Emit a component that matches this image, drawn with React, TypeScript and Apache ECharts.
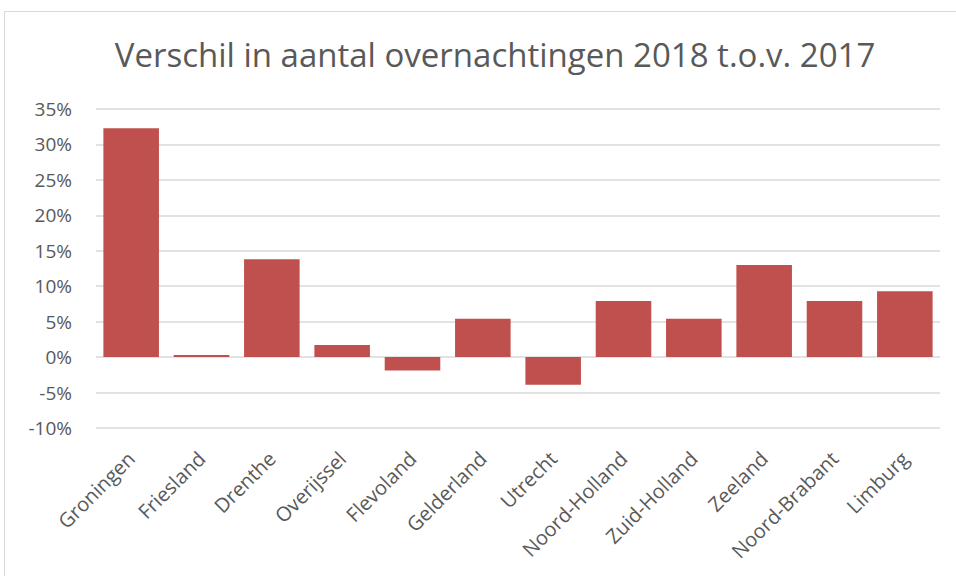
import React, { useEffect, useRef } from "react";
import * as echarts from "echarts";

const titleText = "Verschil in aantal overnachtingen 2018 t.o.v. 2017";
const provinces = [
  "Groningen",
  "Friesland",
  "Drenthe",
  "Overijssel",
  "Flevoland",
  "Gelderland",
  "Utrecht",
  "Noord-Holland",
  "Zuid-Holland",
  "Zeeland",
  "Noord-Brabant",
  "Limburg",
];
const changePct = [32.3, 0.3, 13.8, 1.7, -1.9, 5.4, -3.9, 7.9, 5.4, 13.0, 7.9, 9.3];
const yMin = -10;
const yMax = 35;
const yStep = 5;

const FONT = "'Open Sans', 'Noto Sans', sans-serif";
const TEXT = "#595959";

export default function App() {
  const ref = useRef<HTMLDivElement>(null);
  useEffect(() => {
    if (!ref.current) return;
    const chart = echarts.init(ref.current, undefined, { renderer: "svg" });
    chart.setOption({
      animation: false,
      backgroundColor: "#ffffff",
      title: {
        text: titleText,
        left: 490,
        top: 33,
        textAlign: "center",
        textStyle: { fontFamily: FONT, fontSize: 33, fontWeight: "normal", color: TEXT },
      },
      graphic: [
        {
          type: "rect",
          shape: { x: 4.5, y: 11.5, width: 1000, height: 600 },
          style: { fill: "none", stroke: "#d9d9d9", lineWidth: 1 },
          silent: true,
          z: -1,
        },
      ],
      grid: { left: 96, right: 16, top: 109, bottom: 148 },
      xAxis: {
        type: "category",
        data: provinces,
        axisLine: { show: false, onZero: false },
        axisTick: { show: false },
        axisLabel: {
          rotate: 45,
          margin: 27,
          interval: 0,
          fontFamily: FONT,
          fontSize: 20,
          color: TEXT,
        },
      },
      yAxis: {
        type: "value",
        min: yMin,
        max: yMax,
        interval: yStep,
        axisLine: { show: false },
        axisTick: { show: false },
        splitLine: { lineStyle: { color: "#d9d9d9", width: 1.5 } },
        axisLabel: {
          formatter: "{value}%",
          margin: 24,
          fontFamily: FONT,
          fontSize: 19,
          color: TEXT,
        },
      },
      series: [
        {
          type: "bar",
          data: changePct,
          barCategoryGap: "21%",
          itemStyle: { color: "#c0504d" },
        },
      ],
    });
    return () => chart.dispose();
  }, []);
  return (
    <div
      ref={ref}
      style={{ position: "absolute", left: 0, top: 0, width: 956, height: 576 }}
    />
  );
}
